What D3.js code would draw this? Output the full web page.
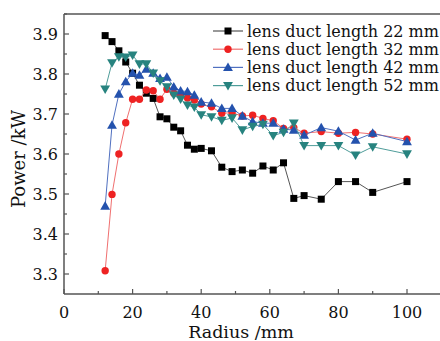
<!DOCTYPE html>
<html>
<head>
<meta charset="utf-8">
<script src="https://cdn.jsdelivr.net/npm/d3@7"></script>
<style>
  body { margin: 0; background: #fff; }
  svg { display: block; }
  text { font-family: "DejaVu Serif", serif; fill: #111; }
</style>
</head>
<body>
<svg id="chart" width="440" height="341"></svg>
<script>
// radius (mm) shared by every series
const radius = [12, 14, 16, 18, 20, 22, 24, 26, 28, 30, 32, 34, 36, 38, 40, 43, 46, 49, 52, 55, 58, 61, 64, 67, 70, 75, 80, 85, 90, 100];

const power22 = [3.896, 3.881, 3.858, 3.830, 3.802, 3.772, 3.752, 3.739, 3.693, 3.688, 3.667, 3.658, 3.622, 3.612, 3.614, 3.608, 3.567, 3.556, 3.560, 3.552, 3.570, 3.560, 3.578, 3.489, 3.496, 3.487, 3.531, 3.531, 3.504, 3.531];
const power32 = [3.308, 3.499, 3.600, 3.678, 3.737, 3.737, 3.760, 3.758, 3.737, 3.762, 3.752, 3.747, 3.740, 3.735, 3.725, 3.718, 3.702, 3.703, 3.695, 3.697, 3.689, 3.683, 3.664, 3.666, 3.652, 3.656, 3.652, 3.654, 3.650, 3.637];
const power42 = [3.470, 3.672, 3.750, 3.781, 3.802, 3.797, 3.812, 3.802, 3.789, 3.792, 3.768, 3.758, 3.756, 3.747, 3.730, 3.727, 3.714, 3.714, 3.695, 3.681, 3.677, 3.677, 3.662, 3.660, 3.647, 3.666, 3.657, 3.635, 3.652, 3.631];
const power52 = [3.762, 3.828, 3.843, 3.842, 3.847, 3.825, 3.825, 3.802, 3.783, 3.768, 3.747, 3.737, 3.722, 3.717, 3.698, 3.693, 3.684, 3.690, 3.660, 3.669, 3.674, 3.646, 3.654, 3.677, 3.621, 3.621, 3.621, 3.597, 3.618, 3.600];

const seriesNames = ["lens duct length 22 mm", "lens duct length 32 mm", "lens duct length 42 mm", "lens duct length 52 mm"];
const xTicks = [0, 20, 40, 60, 80, 100];
const yTicks = [3.3, 3.4, 3.5, 3.6, 3.7, 3.8, 3.9];

const series = [
  { name: seriesNames[0], values: power22, marker: "square",   fill: "#000000", stroke: "#555555" },
  { name: seriesNames[1], values: power32, marker: "circle",   fill: "#ee2222", stroke: "#f07070" },
  { name: seriesNames[2], values: power42, marker: "triangle", fill: "#2452ad", stroke: "#5070c0" },
  { name: seriesNames[3], values: power52, marker: "down",     fill: "#27837f", stroke: "#4f9d9a" }
];

const svg = d3.select("#chart");
const margin = { left: 64, top: 14, bottom: 294 };

const x = d3.scaleLinear().domain([0, 110]).range([margin.left, 441.3]);
const y = d3.scaleLinear().domain([3.25, 3.95]).range([margin.bottom, margin.top]);

const axisColor = "#555";

// frame: left, bottom, top
svg.append("line").attr("x1", x(0)).attr("x2", x(0)).attr("y1", y(3.95)).attr("y2", y(3.25))
  .attr("stroke", axisColor).attr("stroke-width", 1.5);
svg.append("line").attr("x1", x(0)).attr("x2", x(110)).attr("y1", y(3.25)).attr("y2", y(3.25))
  .attr("stroke", axisColor).attr("stroke-width", 1.5);
svg.append("line").attr("x1", x(0)).attr("x2", x(110)).attr("y1", y(3.95)).attr("y2", y(3.95))
  .attr("stroke", axisColor).attr("stroke-width", 1.5);

// x ticks (inward)
d3.range(0, 110, 10).forEach(v => {
  const major = v % 20 === 0;
  svg.append("line").attr("x1", x(v)).attr("x2", x(v))
    .attr("y1", y(3.25)).attr("y2", y(3.25) - (major ? 5 : 3))
    .attr("stroke", axisColor).attr("stroke-width", 1.2);
});
svg.selectAll(".xlab").data(xTicks).enter().append("text")
  .attr("class", "xlab")
  .attr("x", d => x(d)).attr("y", 317.5)
  .attr("text-anchor", "middle")
  .style("font-size", "16px")
  .text(d => d);

// y ticks (inward)
d3.range(3.3, 3.951, 0.05).forEach(v => {
  const major = Math.abs(Math.round(v * 10) - v * 10) < 1e-6;
  svg.append("line").attr("x1", x(0)).attr("x2", x(0) + (major ? 5 : 3))
    .attr("y1", y(v)).attr("y2", y(v))
    .attr("stroke", axisColor).attr("stroke-width", 1.2);
});
svg.selectAll(".ylab").data(yTicks).enter().append("text")
  .attr("class", "ylab")
  .attr("x", 58).attr("y", d => y(d))
  .attr("dy", "0.35em")
  .attr("text-anchor", "end")
  .style("font-size", "16px")
  .text(d => d.toFixed(1));

// axis titles
svg.append("text")
  .attr("x", 241).attr("y", 337.5)
  .attr("text-anchor", "middle")
  .style("font-size", "17.5px")
  .text("Radius /mm");
svg.append("text")
  .attr("transform", `translate(25, 159) rotate(-90)`)
  .attr("text-anchor", "middle")
  .style("font-size", "18px")
  .text("Power /kW");

const triUp = d3.symbol().type(d3.symbolTriangle).size(42);
const triDown = d3.symbol().type(d3.symbolTriangle).size(42);

function drawMarker(g, s, cx, cy) {
  if (s.marker === "square") {
    g.append("rect").attr("x", cx - 3.5).attr("y", cy - 3.5).attr("width", 7).attr("height", 7)
      .attr("fill", s.fill);
  } else if (s.marker === "circle") {
    g.append("circle").attr("cx", cx).attr("cy", cy).attr("r", 3.7).attr("fill", s.fill);
  } else if (s.marker === "triangle") {
    g.append("path").attr("d", triUp()).attr("transform", `translate(${cx},${cy + 0.8})`)
      .attr("fill", s.fill);
  } else {
    g.append("path").attr("d", triDown()).attr("transform", `translate(${cx},${cy - 0.8}) rotate(180)`)
      .attr("fill", s.fill);
  }
}

const line = d3.line().x(d => x(d[0])).y(d => y(d[1]));

series.forEach(s => {
  const pts = radius.map((r, i) => [r, s.values[i]]);
  const g = svg.append("g");
  g.append("path").datum(pts)
    .attr("d", line)
    .attr("fill", "none")
    .attr("stroke", s.stroke)
    .attr("stroke-width", 1);
  pts.forEach(p => drawMarker(g, s, x(p[0]), y(p[1])));
});

// legend
const legend = svg.append("g");
series.forEach((s, i) => {
  const ly = 31 + i * 18.2;
  legend.append("line").attr("x1", 213).attr("x2", 243).attr("y1", ly).attr("y2", ly)
    .attr("stroke", s.stroke).attr("stroke-width", 1.2);
  drawMarker(legend, s, 228, ly);
  legend.append("text")
    .attr("x", 247).attr("y", ly).attr("dy", "0.35em")
    .style("font-size", "16px")
    .text(s.name);
});
</script>
</body>
</html>
